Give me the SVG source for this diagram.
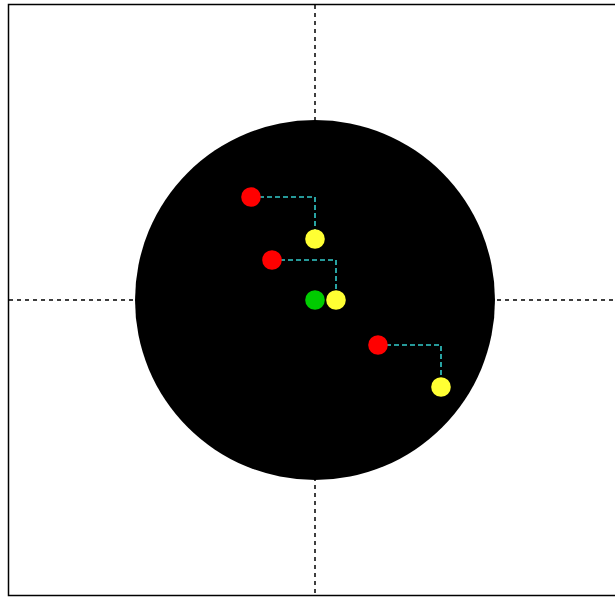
<svg xmlns="http://www.w3.org/2000/svg" width="615" height="597" viewBox="0 0 615 597">
<style>
.axis{stroke:#000;stroke-width:1.5;stroke-dasharray:4,4;fill:none}
.link{stroke:#33cccc;stroke-width:1.6;stroke-dasharray:5,3;fill:none}
.red{fill:#ff0000}
.yel{fill:#ffff33}
.grn{fill:#00cc00}
</style>
<rect width="615" height="597" fill="#fff"/>
<rect x="8.5" y="4.5" width="620" height="591" fill="none" stroke="#000" stroke-width="1.5"/>
<g id="axes">
<line class="axis" x1="315" y1="5" x2="315" y2="595"/>
<line class="axis" x1="9" y1="300" x2="615" y2="300"/>
</g>
<circle id="disc" cx="315" cy="300" r="180" fill="#000"/>
<g id="connectors">
<polyline class="link" points="251,197 315,197 315,239"/>
<polyline class="link" points="272,260 336,260 336,300"/>
<polyline class="link" points="378,345 441,345 441,387"/>
</g>
<g id="n1"><circle class="red" cx="251" cy="197" r="9.8"/></g>
<g id="n2"><circle class="yel" cx="315" cy="239" r="9.8"/></g>
<g id="n3"><circle class="red" cx="272" cy="260" r="9.8"/></g>
<g id="n4"><circle class="yel" cx="336" cy="300" r="9.8"/></g>
<g id="n5"><circle class="grn" cx="315" cy="300" r="9.8"/></g>
<g id="n6"><circle class="red" cx="378" cy="345" r="9.8"/></g>
<g id="n7"><circle class="yel" cx="441" cy="387" r="9.8"/></g>
</svg>
